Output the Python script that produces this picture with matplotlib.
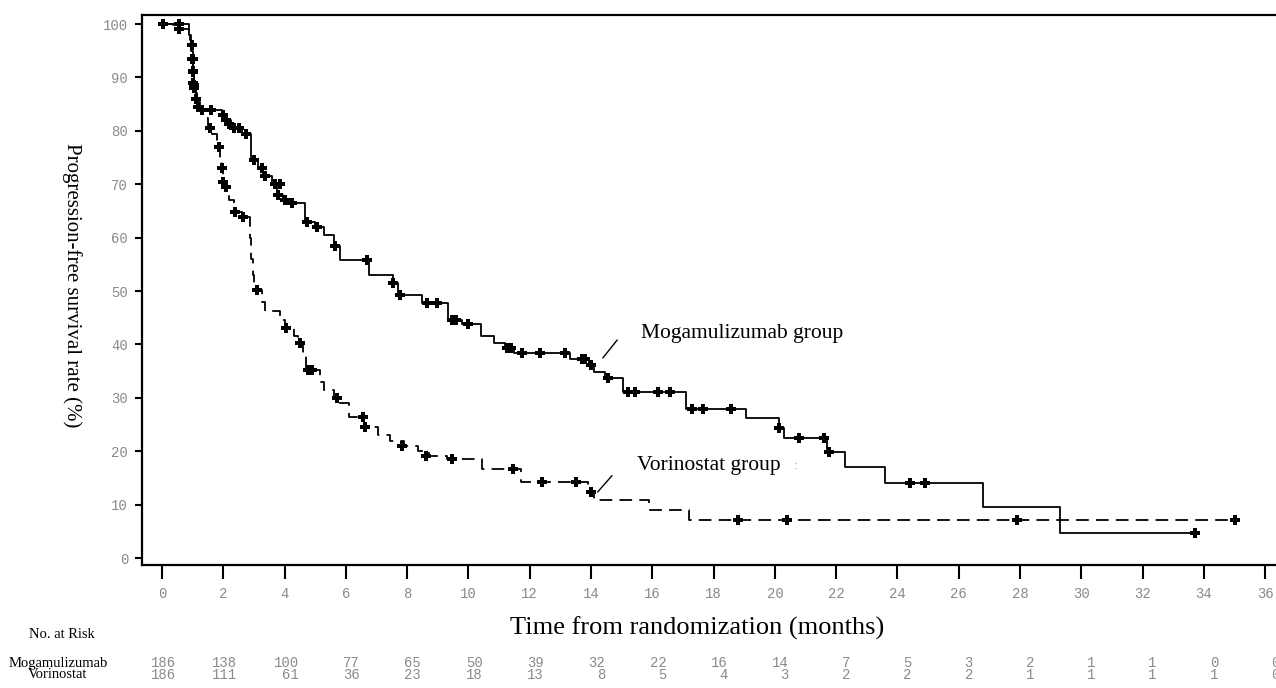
import numpy as np
import matplotlib.pyplot as plt

# Kaplan-Meier steps: (time, survival after the step)
moga_t = [0, 0.88, 0.95, 1.0, 1.05, 1.1, 1.15, 1.25, 1.95, 2.1, 2.25, 2.4, 2.6, 2.9,
          3.15, 3.3, 3.6, 3.75, 3.95, 4.15, 4.67, 5.0, 5.3, 5.6, 5.8, 6.75, 7.55, 7.7,
          8.5, 9.35, 9.8, 10.4, 10.85, 11.2, 11.5, 13.3, 13.95, 14.1, 14.45, 15.05,
          17.1, 19.05, 20.15, 20.3, 21.7, 22.3, 23.6, 26.8, 29.3, 33.7]
moga_s = [100, 98, 95, 92, 89, 87, 85.5, 84, 83, 82, 81.2, 80.5, 79.5, 74.5,
          73, 71.5, 70, 68, 67, 66.5, 63, 62, 60.5, 58.5, 55.8, 53, 51.5, 49.3,
          47.8, 44.6, 43.8, 41.5, 40.3, 39.3, 38.4, 37.2, 36.1, 34.8, 33.7, 31.1,
          27.9, 26.2, 24.3, 22.5, 19.8, 17.1, 14.0, 9.6, 4.7, 4.7]
moga_cens_t = [0.05, 0.55, 0.98, 0.98, 1.0, 1.02, 1.06, 1.12, 1.18, 1.6, 1.98, 2.1, 2.2,
               2.35, 2.5, 2.75, 3.0, 3.25, 3.35, 3.7, 3.85, 3.8, 4.0, 4.25, 4.73, 5.06,
               5.64, 6.68, 7.55, 7.77, 8.64, 8.97, 9.45, 9.6, 10.0, 11.25, 11.4, 11.75,
               12.35, 13.15, 13.7, 13.8, 14.0, 14.55, 15.2, 15.43, 16.2, 16.57, 17.3,
               17.65, 18.56, 20.15, 20.8, 21.6, 21.76, 24.4, 24.9, 33.7]
moga_cens_s = [100, 100, 96, 93.5, 91.3, 89, 88, 86, 84.5, 84, 83, 82, 81.2,
               80.5, 80.5, 79.5, 74.5, 73, 71.5, 70, 70, 68, 67, 66.5, 63, 62,
               58.5, 55.8, 51.5, 49.3, 47.8, 47.8, 44.6, 44.6, 43.8, 39.3, 39.3, 38.4,
               38.4, 38.4, 37.2, 37.2, 36.1, 33.7, 31.1, 31.1, 31.1, 31.1, 27.9,
               27.9, 27.9, 24.3, 22.5, 22.5, 19.8, 14.0, 14.0, 4.7]

vori_t = [0, 0.36, 0.9, 0.95, 1.0, 1.05, 1.1, 1.2, 1.35, 1.5, 1.65, 1.8, 1.9, 1.95, 2.0,
          2.1, 2.2, 2.35, 2.6, 2.87, 2.92, 2.97, 3.0, 3.25, 3.35, 3.85, 4.0, 4.3, 4.45,
          4.6, 4.7, 5.15, 5.3, 5.6, 5.75, 6.1, 6.58, 7.05, 7.45, 7.9, 8.35, 8.7, 9.3,
          10.45, 11.7, 13.9, 14.1, 15.9, 17.2, 35.0]
vori_s = [100, 99, 97, 94, 91, 88, 86, 84, 82.5, 80.5, 79.5, 77, 75, 73, 70.5,
          69.5, 67, 64.8, 63.9, 60, 56, 53, 50.2, 48, 46.2, 44.5, 43.1, 41.5, 40.3,
          38, 35.2, 33, 31.5, 30, 29, 26.4, 24.5, 23, 22, 21, 20, 19.2, 18.6,
          16.7, 14.2, 12.4, 10.9, 9.0, 7.2, 7.2]
vori_cens_t = [0.05, 0.55, 0.98, 1.0, 1.02, 1.05, 1.1, 1.3, 1.57, 1.85, 1.96, 1.99, 2.1,
               2.4, 2.64, 3.1, 4.05, 4.5, 4.76, 4.9, 5.7, 6.56, 6.62, 7.83, 8.6, 9.46,
               11.45, 12.4, 13.5, 14.0, 18.8, 20.4, 27.9, 35.0]
vori_cens_s = [100, 99, 96, 93.5, 91, 88.5, 86, 84, 80.5, 77, 73, 70.5, 69.5,
               64.8, 63.9, 50.2, 43.1, 40.3, 35.2, 35.2, 30, 26.4, 24.5, 21, 19.2, 18.6,
               16.7, 14.2, 14.2, 12.4, 7.2, 7.2, 7.2, 7.2]

x_ticks = list(range(0, 37, 2))
y_ticks = list(range(0, 101, 10))
risk_moga = [186, 138, 100, 77, 65, 50, 39, 32, 22, 16, 14, 7, 5, 3, 2, 1, 1, 0, 0]
risk_vori = [186, 111, 61, 36, 23, 18, 13, 8, 5, 4, 3, 2, 2, 2, 1, 1, 1, 1, 0]

serif = "Liberation Serif"
mono = "Liberation Mono"
gray = "#8a8a8a"

fig = plt.figure(figsize=(12.76, 6.88), dpi=100)
ax = fig.add_axes([142 / 1276, 123 / 688, 1134 / 1276, 550 / 688])

ax.step(moga_t, moga_s, where="post", color="black", lw=1.3)
ax.step(vori_t, vori_s, where="post", color="black", lw=1.3, dashes=(7, 4))
ax.plot(moga_cens_t, moga_cens_s, ls="none", marker="P", ms=7.5, color="black", mew=0)
ax.plot(vori_cens_t, vori_cens_s, ls="none", marker="P", ms=7.5, color="black", mew=0)

ax.set_xlim(-0.65, 36.35)
ax.set_ylim(-1.3, 101.7)
ax.set_xticks(x_ticks)
ax.set_yticks(y_ticks)
for lab in ax.get_xticklabels() + ax.get_yticklabels():
    lab.set_family(mono)
    lab.set_fontsize(10)
    lab.set_color(gray)
ax.tick_params(axis="x", length=10, width=1.5, pad=6, direction="out")
ax.tick_params(axis="y", length=5, width=1.5, pad=5, direction="out")
ax.spines["right"].set_visible(False)
for s in ["left", "bottom", "top"]:
    ax.spines[s].set_linewidth(1.6)

fig.text(697 / 1276, 1 - 628 / 688, "Time from randomization (months)", family=serif,
         fontsize=19, ha="center", va="center")
fig.text(72 / 1276, 1 - 285 / 688, "Progression-free survival rate (%)", family=serif,
         fontsize=15, rotation=270, ha="center", va="center")

# group labels with leader lines
ax.text(15.63, 42.1, "Mogamulizumab group", family=serif, fontsize=15.5, va="center")
ax.plot([14.39, 14.85], [37.5, 40.8], color="black", lw=1)
ax.text(15.5, 17.4, "Vorinostat group", family=serif, fontsize=15.5, va="center")
ax.plot([14.22, 14.68], [12.4, 15.4], color="black", lw=1)
ax.text(20.6, 17.4, ":", color="#9aa6c0", fontsize=9, va="center")

# number at risk table
fig.text(62 / 1276, 1 - 634 / 688, "No. at Risk", family=serif, fontsize=10.5,
         ha="center", va="center")
fig.text(58 / 1276, 1 - 663 / 688, "Mogamulizumab", family=serif, fontsize=10.5,
         ha="center", va="center")
fig.text(58 / 1276, 1 - 675 / 688, "Vorinostat", family=serif, fontsize=10.5,
         ha="center", va="center")
row_trans = ax.get_xaxis_transform()
for t, m, v in zip(x_ticks, risk_moga, risk_vori):
    ax.text(t + 0.46, (663 - 565) / -550, str(m), transform=row_trans, ha="right",
            va="center", family=mono, fontsize=10, color=gray, clip_on=False)
    ax.text(t + 0.46, (675 - 565) / -550, str(v), transform=row_trans, ha="right",
            va="center", family=mono, fontsize=10, color=gray, clip_on=False)

fig.savefig("out.png", dpi=100)
